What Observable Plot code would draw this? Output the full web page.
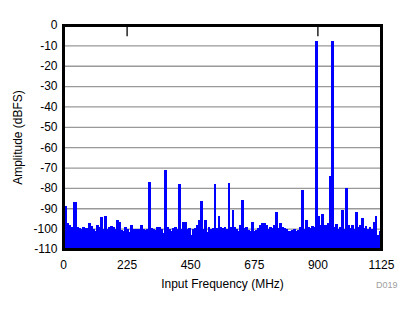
<!DOCTYPE html>
<html>
<head>
<meta charset="utf-8">
<script src="https://cdn.jsdelivr.net/npm/d3@7"></script>
<script src="https://cdn.jsdelivr.net/npm/@observablehq/plot@0.6"></script>
<style>
  html, body { margin: 0; padding: 0; background: #fff; }
  #wrap { position: relative; width: 414px; height: 312px; }
  #note { position: absolute; left: 376px; top: 280px; font: 9px "Liberation Sans", Arial, sans-serif; color: #a0a0a0; }
</style>
</head>
<body>
<div id="wrap"><div id="note">D019</div></div>
<script>
// Spectrum: 160 FFT bins spanning 0–1125 MHz
const fMax = 1125;
const amplitudes = [
  -79, -89, -97, -98, -99, -87, -87, -99, -99.5, -100,
  -99, -99.5, -99.5, -97, -98.5, -100, -101, -98, -99, -94.5,
  -100, -94, -100, -99, -98.5, -99, -100, -96, -96.5, -100.5,
  -101, -99, -100, -101.5, -98, -100, -100, -100, -100, -98,
  -100, -100.5, -100, -77, -99.5, -100, -100.5, -99, -99, -100,
  -102, -71, -99, -100, -101, -99.5, -99, -100, -78, -100,
  -96.5, -96.5, -100, -99.5, -103, -100, -99.5, -98, -96, -86.5,
  -100, -96, -101.5, -99, -100, -99.5, -78, -99.5, -94, -99,
  -99.5, -99, -100, -77.5, -99, -91, -99, -100, -101, -98,
  -86, -99.5, -99, -100.5, -101, -96.5, -101, -100.5, -99.5, -98,
  -97, -97, -98, -100, -99, -99.5, -98, -92, -99.5, -97,
  -99, -99.5, -100, -101, -101, -100.5, -100, -101, -100.5, -99,
  -81, -100, -96, -99, -99.5, -98.5, -99, -8, -94, -98,
  -93, -98, -98, -97, -74, -8, -99, -97.5, -100, -99,
  -91, -100, -80, -98, -99.5, -98, -100, -92, -99, -98,
  -95, -99.5, -98.5, -100, -99, -100, -96.5, -94, -103, -101
];
const xTicks = [0, 225, 450, 675, 900, 1125];
const yTicks = [0, -10, -20, -30, -40, -50, -60, -70, -80, -90, -100, -110];
const gridLines = [-10, -20, -30, -40, -50, -60, -70, -80, -90, -100];
const topTicks = [225, 900];
const floorDb = -110;

const binW = fMax / amplitudes.length;
const bins = amplitudes.map((a, i) => ({f1: i * binW, f2: (i + 1) * binW, a}));

const chart = Plot.plot({
  width: 414,
  height: 312,
  marginLeft: 63,
  marginRight: 33,
  marginTop: 25,
  marginBottom: 63,
  style: {fontFamily: '"Liberation Sans", Arial, sans-serif', fontSize: "12px", color: "#000", background: "#fff"},
  x: {domain: [0, fMax]},
  y: {domain: [floorDb, 0]},
  marks: [
    Plot.ruleY(gridLines, {stroke: "#999", strokeWidth: 1.3}),
    Plot.rectY(bins, {x1: "f1", x2: "f2", y1: floorDb, y2: "a", fill: "#0000ff",
      insetLeft: -0.4, insetRight: -0.4, shapeRendering: "crispEdges"}),
    Plot.ruleX(topTicks, {y1: 0, y2: -5.5, stroke: "#000", strokeWidth: 1.3}),
    Plot.axisX({ticks: xTicks, tickSize: 0, tickPadding: 11, tickFormat: d => String(d),
      label: "Input Frequency (MHz)", labelAnchor: "center", labelOffset: 38, labelArrow: "none", fontSize: 12}),
    Plot.axisY({ticks: yTicks, tickSize: 0, tickPadding: 6, tickFormat: d => String(d),
      label: "Amplitude (dBFS)", labelAnchor: "center", labelOffset: 50, labelArrow: "none", fontSize: 12}),
    Plot.frame({stroke: "#000", strokeWidth: 3})
  ]
});
chart.style.position = "absolute";
chart.style.left = "0";
chart.style.top = "0";
document.getElementById("wrap").prepend(chart);
</script>
</body>
</html>
